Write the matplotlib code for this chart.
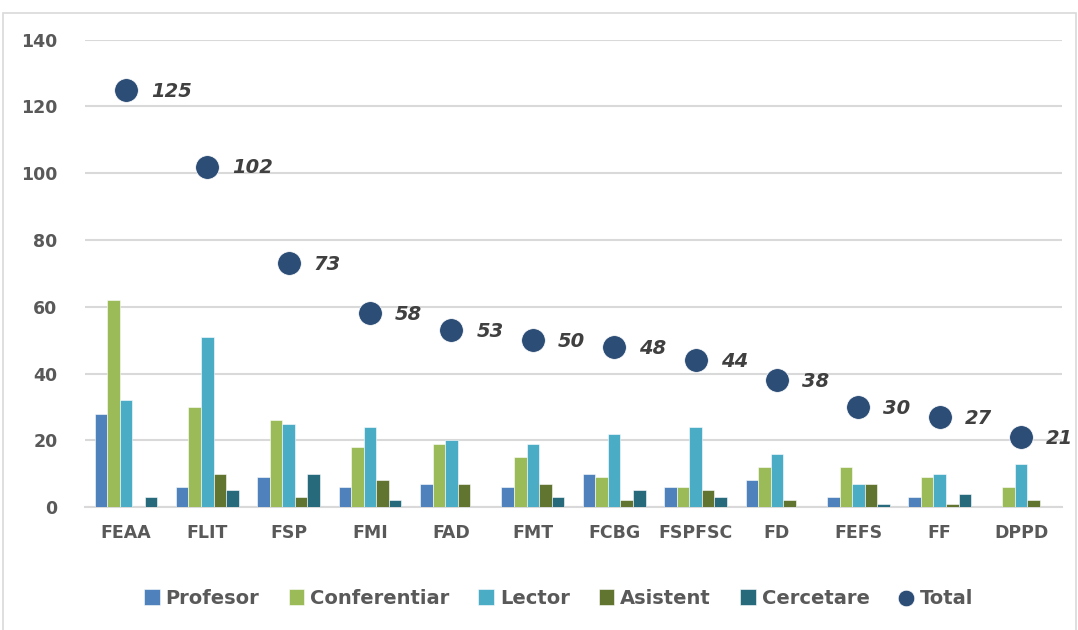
import numpy as np
import matplotlib.pyplot as plt
from matplotlib.patches import Rectangle

faculties = ['FEAA', 'FLIT', 'FSP', 'FMI', 'FAD', 'FMT', 'FCBG', 'FSPFSC',
             'FD', 'FEFS', 'FF', 'DPPD']
profesor = [28, 6, 9, 6, 7, 6, 10, 6, 8, 3, 3, 0]
conferentiar = [62, 30, 26, 18, 19, 15, 9, 6, 12, 12, 9, 6]
lector = [32, 51, 25, 24, 20, 19, 22, 24, 16, 7, 10, 13]
asistent = [0, 10, 3, 8, 7, 7, 2, 5, 2, 7, 1, 2]
cercetare = [3, 5, 10, 2, 0, 3, 5, 3, 0, 1, 4, 0]
total = [125, 102, 73, 58, 53, 50, 48, 44, 38, 30, 27, 21]

series = [('Profesor', profesor, '#4F81BD'),
          ('Conferentiar', conferentiar, '#9BBB59'),
          ('Lector', lector, '#4BACC6'),
          ('Asistent', asistent, '#617530'),
          ('Cercetare', cercetare, '#266A7B')]

plt.rcParams['font.family'] = ['DejaVu Sans']

fig = plt.figure(figsize=(10.78, 6.3), dpi=100)
ax = fig.add_axes([0.079, 0.195, 0.906, 0.742])

# cadru exterior
fig.patches.append(Rectangle((0.003, -0.01), 0.995, 0.99, transform=fig.transFigure,
                             fill=False, edgecolor='#D9D9D9', linewidth=1.2))

x = np.arange(len(faculties))
w = 0.154
handles = []
for i, (name, vals, col) in enumerate(series):
    b = ax.bar(x + (i - 2) * w, vals, width=w, color=col, label=name,
               edgecolor='white', linewidth=0.4, zorder=3)
    handles.append(b)

sc = ax.scatter(x, total, s=290, color='#2C4D75', label='Total', zorder=4,
                edgecolors='white', linewidths=0.5)
handles.append(sc)
for xi, t in zip(x, total):
    ax.annotate(str(t), (xi, t), xytext=(18, -1), textcoords='offset points',
                ha='left', va='center', fontsize=14, fontweight='bold',
                fontstyle='italic', color='#404040', zorder=5, annotation_clip=False)

ax.set_xlim(-0.5, len(faculties) - 0.5)
ax.set_ylim(0, 140)
ax.set_yticks(range(0, 141, 20))
ax.set_xticks(x)
ax.set_xticklabels(faculties)
ax.tick_params(axis='both', length=0, labelsize=12.5, labelcolor='#595959', pad=12)
ax.tick_params(axis='y', pad=20)
for lab in ax.get_xticklabels() + ax.get_yticklabels():
    lab.set_fontweight('bold')

ax.grid(axis='y', color='#D9D9D9', linewidth=1.5, zorder=0)
for s in ['top', 'right', 'left']:
    ax.spines[s].set_visible(False)
ax.spines['bottom'].set_color('#D9D9D9')
ax.spines['bottom'].set_linewidth(1.5)

leg = ax.legend(handles=handles, loc='center', bbox_to_anchor=(0.485, -0.195), ncol=6,
                frameon=False, fontsize=14, handlelength=0.8, handleheight=0.9,
                handletextpad=0.3, columnspacing=1.5, markerscale=0.7)
for txt in leg.get_texts():
    txt.set_color('#595959')
    txt.set_fontweight('bold')

fig.savefig('out.png', dpi=100)
